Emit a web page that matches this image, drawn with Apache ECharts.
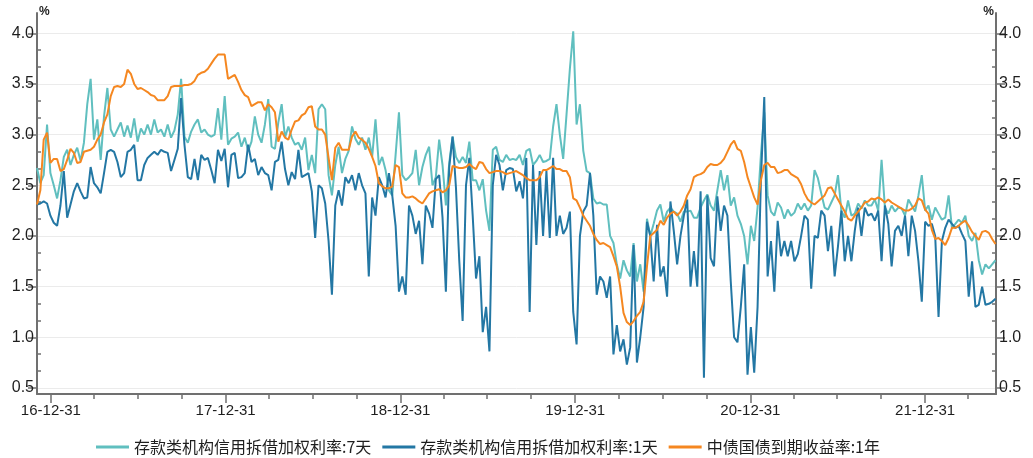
<!DOCTYPE html>
<html>
<head>
<meta charset="utf-8">
<script src="https://cdn.jsdelivr.net/npm/echarts@6/dist/echarts.min.js"></script>
<style>
  html, body { margin: 0; padding: 0; background: #fff; }
  #main { width: 1033px; height: 458px; }
</style>
</head>
<body>
<div id="main"></div>
<script>
// weekly observations (Fridays), first one 2016-12-02
var startDay = [2016, 11, 2];
var weekCount = 287;

var names = ['存款类机构信用拆借加权利率:7天', '存款类机构信用拆借加权利率:1天', '中债国债到期收益率:1年'];

var rate7d = [
    2.67, 2.52, 2.6, 3.1, 2.62, 2.5, 2.37, 2.55, 2.78, 2.85,
    2.7, 2.8, 2.87, 2.74, 2.92, 3.3, 3.55, 2.95, 3.15, 2.75,
    3.18, 3.46, 3.05, 2.98, 3.05, 3.12, 2.98, 3.09, 2.97, 3.16,
    2.93, 3.06, 3.0, 3.1, 3.0, 3.15, 3.02, 3.05, 2.98, 3.1,
    2.97, 3.04, 3.2, 3.55, 2.98, 2.92, 3.03, 3.1, 3.15, 3.02,
    3.05, 3.0, 2.98, 3.0, 3.26, 2.95, 3.38, 2.9, 2.96, 2.98,
    3.02, 2.88, 2.97, 2.84, 2.93, 3.18, 3.0, 2.92, 3.1, 3.35,
    2.88, 2.86, 3.12, 3.3, 2.97, 3.08, 2.97, 2.9, 2.92, 2.85,
    2.97, 2.65, 2.8, 2.62, 3.25, 3.3, 3.25, 2.6, 2.4, 2.7,
    2.88, 2.62, 2.76, 2.84, 3.08, 2.96, 2.9, 2.97, 2.85, 2.97,
    2.78, 3.15, 2.7, 2.78, 2.65, 2.45, 2.4, 2.8, 3.22, 2.6,
    2.55, 2.58, 2.62, 2.85, 2.5, 2.68, 2.8, 2.88, 2.5, 2.58,
    2.95, 2.7, 2.3, 2.72, 2.98, 2.78, 2.72, 2.78, 2.72, 2.93,
    2.55, 2.55, 2.45, 2.56, 2.25, 2.05, 2.85, 2.88, 2.75, 2.73,
    2.8, 2.75, 2.76, 2.75, 2.8, 2.7, 2.84, 2.86, 2.7, 2.74,
    2.8, 2.73, 2.74, 2.76, 3.08, 3.3, 3.0, 2.76, 3.2, 3.65,
    4.02, 3.1, 3.3, 2.84, 2.64, 2.62, 2.37, 2.32, 2.33, 2.31,
    2.31, 2.0, 1.93, 1.72, 1.58, 1.76, 1.66, 1.6, 1.93, 1.55,
    1.72, 1.45, 2.17, 2.0, 2.12, 2.25, 2.31, 2.14, 2.24, 2.28,
    2.24, 2.22, 2.14, 2.24, 2.24, 2.25, 2.18, 2.18, 2.28, 2.35,
    2.41, 2.3, 2.25, 2.45, 2.65, 2.45, 2.6, 2.3, 2.38, 2.2,
    2.12, 2.0, 1.72, 2.1, 1.95, 2.28, 2.8, 3.22, 2.4, 2.24,
    2.2, 2.33, 2.28, 2.17, 2.26, 2.2, 2.23, 2.32, 2.26, 2.32,
    2.25, 2.3, 2.65, 2.57, 2.42, 2.28, 2.26, 2.33, 2.4, 2.6,
    2.25, 2.18, 2.35, 2.2, 2.22, 2.32, 2.27, 2.35, 2.3, 2.3,
    2.36, 2.25, 2.75, 2.28, 2.22, 2.3, 2.24, 2.28, 2.27, 2.2,
    2.36, 2.3, 2.24, 2.4, 2.6, 2.25, 2.3, 2.16, 2.28, 2.22,
    2.16, 2.18, 2.4, 2.08, 2.12, 2.16, 2.13, 2.2, 2.0, 1.95,
    2.03, 1.76, 1.62, 1.72, 1.68, 1.72, 1.76
];

var rate1d = [
    2.31, 2.32, 2.34, 2.32, 2.2, 2.13, 2.1, 2.3, 2.64, 2.18,
    2.31, 2.44, 2.52, 2.44, 2.37, 2.38, 2.68, 2.52, 2.48, 2.42,
    2.62, 2.83, 2.85, 2.83, 2.73, 2.58, 2.62, 2.83, 2.85, 2.9,
    2.55, 2.55, 2.7, 2.77, 2.8, 2.83, 2.8, 2.85, 2.83, 2.82,
    2.64, 2.75, 2.86, 3.36, 2.9, 2.58, 2.56, 2.76, 2.55, 2.8,
    2.75, 2.77, 2.65, 2.52, 2.85, 2.74, 2.86, 2.48, 2.8, 2.82,
    2.57, 2.58, 2.62, 2.9, 2.73, 2.76, 2.6, 2.68, 2.62, 2.6,
    2.45, 2.73, 2.75, 2.93, 2.66, 2.5, 2.63, 2.56, 2.85, 2.58,
    2.6, 2.62, 2.44, 1.98, 2.5, 2.47, 2.32, 1.95, 1.42, 2.3,
    2.45, 2.3, 2.58, 2.52, 2.6, 2.45, 2.62, 2.5, 2.42, 1.6,
    2.38, 2.2, 2.58, 2.5, 2.38, 2.62, 2.4, 2.1, 1.45, 1.6,
    1.42, 2.3, 2.2, 2.02, 2.15, 1.72, 2.3, 2.22, 2.08, 2.56,
    2.6, 2.18, 1.45, 2.68, 2.98, 2.48, 1.75, 1.16, 2.5, 2.77,
    2.2, 1.58, 1.8, 1.05, 1.3, 0.86, 2.5, 2.8, 2.7, 2.45,
    2.65, 2.67, 2.66, 2.44, 2.54, 2.37, 2.77, 1.25, 2.7, 1.91,
    2.64, 2.0, 2.64, 1.98, 2.77, 2.0, 2.2, 2.02, 2.08, 2.24,
    1.25, 0.93, 2.0, 2.24, 2.3, 2.62, 2.2, 1.42, 1.6, 1.55,
    1.39, 1.6, 0.83, 1.12, 0.86, 0.98, 0.73, 0.9, 1.91, 0.75,
    1.0, 1.3, 2.14, 2.0, 1.55, 2.11, 1.6, 1.7, 1.4, 2.34,
    2.05, 1.72, 2.0, 2.2, 2.36, 1.5, 1.85, 1.5, 2.44, 0.6,
    2.4, 1.78, 1.7, 2.39, 2.05, 2.3, 2.2, 1.55, 1.0, 0.95,
    1.3, 1.72, 0.63, 1.1, 0.65, 1.3, 2.55, 3.37, 1.6, 1.95,
    1.45, 2.15, 1.8, 1.95, 1.8, 1.95, 1.75, 1.82, 2.0, 2.2,
    2.16, 1.48, 2.0, 1.98, 2.25, 2.2, 1.85, 2.1, 1.6, 1.9,
    2.25, 1.75, 2.0, 1.75, 2.05, 2.28, 2.0, 2.28, 2.2, 2.22,
    2.15, 2.25, 1.75, 2.3, 2.12, 1.7, 2.05, 2.1, 2.0, 2.2,
    1.8, 2.2, 2.05, 1.75, 1.35, 2.14, 2.1, 2.12, 2.0, 1.2,
    1.95, 2.08, 2.16, 2.12, 2.08, 2.1, 2.02, 1.95, 1.4, 1.75,
    1.3, 1.32, 1.5, 1.32, 1.33, 1.35, 1.38
];

var bond1y = [
    2.31, 2.45, 2.95, 3.02, 2.72, 2.76, 2.76, 2.64, 2.66, 2.75,
    2.86, 2.82, 2.72, 2.73, 2.83, 2.84, 2.85, 2.88, 2.95, 3.0,
    3.12, 3.2, 3.38, 3.47, 3.48, 3.47, 3.5, 3.64, 3.6, 3.5,
    3.45, 3.46, 3.44, 3.42, 3.39, 3.38, 3.34, 3.34, 3.34, 3.38,
    3.47, 3.48, 3.48, 3.48, 3.49, 3.49, 3.5, 3.53, 3.59, 3.61,
    3.62, 3.65, 3.7, 3.75, 3.79, 3.79, 3.79, 3.55, 3.57, 3.59,
    3.52, 3.44, 3.39, 3.37, 3.28, 3.3, 3.32, 3.32, 3.24, 3.3,
    3.27, 3.22, 2.93, 3.03, 2.97, 2.95, 3.05, 3.13, 3.14, 3.19,
    3.21, 3.27, 3.28, 3.08, 3.05, 3.05, 3.0, 2.77, 2.55, 2.87,
    2.92, 2.85, 2.85, 2.85, 2.98, 3.03, 2.97, 2.95, 2.92, 2.86,
    2.78, 2.69, 2.52, 2.49, 2.47, 2.47, 2.49, 2.7, 2.68, 2.42,
    2.38, 2.38, 2.39, 2.37, 2.34, 2.32, 2.37, 2.42, 2.44, 2.45,
    2.46, 2.43, 2.45, 2.5, 2.69, 2.68, 2.67, 2.67, 2.68, 2.71,
    2.68, 2.66, 2.73, 2.72, 2.66, 2.62, 2.63, 2.64, 2.64, 2.63,
    2.61, 2.62, 2.63, 2.64, 2.62, 2.6, 2.57, 2.55, 2.55, 2.55,
    2.58, 2.65, 2.65, 2.67, 2.69, 2.66, 2.66, 2.64, 2.64, 2.58,
    2.37, 2.35, 2.28, 2.2, 2.15, 2.1, 2.02, 1.96, 1.92, 1.93,
    1.91, 1.89, 1.8, 1.7, 1.5, 1.24, 1.15, 1.12, 1.16, 1.21,
    1.25, 1.35, 1.7, 2.0, 2.03, 2.06, 2.15, 2.11, 2.18, 2.22,
    2.24, 2.2, 2.24, 2.3, 2.4, 2.46, 2.58, 2.6, 2.61, 2.63,
    2.68, 2.71, 2.7, 2.7, 2.72, 2.76, 2.83, 2.9, 2.94, 2.86,
    2.84, 2.73, 2.58, 2.48, 2.38, 2.31, 2.55, 2.7, 2.72, 2.68,
    2.68, 2.62, 2.63, 2.65, 2.65, 2.61, 2.59, 2.57, 2.51, 2.42,
    2.36, 2.33, 2.31, 2.34, 2.37, 2.4, 2.47, 2.48, 2.42, 2.36,
    2.3, 2.24, 2.17, 2.15, 2.2, 2.24, 2.28, 2.33, 2.34, 2.37,
    2.36, 2.38, 2.36, 2.33, 2.36, 2.33, 2.31, 2.29, 2.27, 2.25,
    2.25, 2.27, 2.3, 2.37, 2.35, 2.26, 2.22, 2.06, 1.97, 1.98,
    1.95, 1.91, 1.98, 2.08, 2.08, 2.1, 2.13, 2.15, 2.1, 2.04,
    2.0, 1.96, 2.04, 2.05, 2.03, 1.97, 1.92
];

var xTickDates = ['2016-12-31', '2017-12-31', '2018-12-31', '2019-12-31', '2020-12-31', '2021-12-31'];
var xMinorDates = [
    '2017-03-31', '2017-06-30', '2017-09-30',
    '2018-03-31', '2018-06-30', '2018-09-30',
    '2019-03-31', '2019-06-30', '2019-09-30',
    '2020-03-31', '2020-06-30', '2020-09-30',
    '2021-03-31', '2021-06-30', '2021-09-30',
    '2022-03-31'
];
var yTicks = [0.5, 1.0, 1.5, 2.0, 2.5, 3.0, 3.5, 4.0];
var yMinorTicks = [0.667, 0.833, 1.167, 1.333, 1.667, 1.833, 2.167, 2.333,
    2.667, 2.833, 3.167, 3.333, 3.667, 3.833];

var colors = ['#60bfbf', '#2377a4', '#f58720'];

function pad(n) { return n < 10 ? '0' + n : '' + n; }

// dates as UTC timestamps, x axis is a plain value axis over time
function toTime(s) {
    var p = s.split('-');
    return Date.UTC(+p[0], +p[1] - 1, +p[2]);
}
var dayMs = 86400000;
var t0 = Date.UTC(startDay[0], startDay[1], startDay[2]);
var times = [];
for (var i = 0; i < weekCount; i++) {
    times.push(t0 + i * 7 * dayMs);
}
function pairs(vals) {
    return vals.map(function (v, k) { return [times[k], v]; });
}

var axisColor = '#707070';
var labelFamily = "'Liberation Sans', Arial, sans-serif";

var xMin = toTime('2016-12-02'), xMax = toTime('2022-05-28');
var yMin = 0.44, yMax = 4.2;

function yLabel(pos) {
    return {
        type: 'value',
        position: pos,
        min: yMin,
        max: yMax,
        name: '%',
        nameLocation: 'end',
        nameGap: -5,
        nameTextStyle: {
            fontSize: 12, fontWeight: 'bold', color: '#1e1e1e',
            align: pos === 'left' ? 'left' : 'right', verticalAlign: 'bottom',
            padding: pos === 'left' ? [0, 0, 0, 2] : [0, 2, 0, 0]
        },
        axisLine: { show: true, lineStyle: { color: axisColor, width: 2 } },
        axisTick: { show: true, customValues: yTicks, length: 9, lineStyle: { color: axisColor, width: 1.5 } },
        axisLabel: {
            customValues: yTicks, margin: 3, fontSize: 16, color: '#1e1e1e', fontFamily: labelFamily,
            formatter: function (v) { return v.toFixed(1); }
        },
        splitLine: { show: pos === 'left', lineStyle: { color: '#ebebeb', width: 1 } }
    };
}

function yMinor(pos) {
    return {
        type: 'value',
        position: pos,
        min: yMin,
        max: yMax,
        axisLine: { show: false },
        axisTick: { show: true, inside: true, customValues: yMinorTicks, length: 4, lineStyle: { color: axisColor, width: 1.5 } },
        axisLabel: { show: false },
        splitLine: { show: false }
    };
}

var chart = echarts.init(document.getElementById('main'));

var option = {
    animation: false,
    color: colors,
    grid: { left: 37, right: 37, top: 13, bottom: 64, containLabel: false },
    legend: {
        left: 91,
        top: 434,
        icon: 'rect',
        itemWidth: 33,
        itemHeight: 3,
        itemGap: 11,
        textStyle: { fontSize: 16, color: '#1e1e1e', fontFamily: "'Noto Sans CJK SC', sans-serif" },
        data: names
    },
    xAxis: [
        {
            type: 'value',
            min: xMin,
            max: xMax,
            axisLine: { lineStyle: { color: axisColor, width: 2 } },
            axisTick: { show: true, customValues: xTickDates.map(toTime), length: 9, lineStyle: { color: axisColor, width: 1.5 } },
            axisLabel: {
                customValues: xTickDates.map(toTime),
                margin: 9,
                fontSize: 15,
                color: '#1e1e1e',
                fontFamily: labelFamily,
                formatter: function (v) {
                    var d = new Date(v);
                    return pad(d.getUTCFullYear() % 100) + '-' + pad(d.getUTCMonth() + 1) + '-' + pad(d.getUTCDate());
                }
            },
            splitLine: { show: false }
        },
        {
            type: 'value',
            position: 'bottom',
            min: xMin,
            max: xMax,
            axisLine: { show: false },
            axisTick: { show: true, customValues: xMinorDates.map(toTime), length: 5, lineStyle: { color: axisColor, width: 1.5 } },
            axisLabel: { show: false },
            splitLine: { show: false }
        }
    ],
    yAxis: [yLabel('left'), yLabel('right'), yMinor('left'), yMinor('right')],
    series: [
        {
            name: names[0], type: 'line', symbol: 'none', data: pairs(rate7d),
            lineStyle: { width: 2, color: colors[0] }, z: 2
        },
        {
            name: names[1], type: 'line', symbol: 'none', data: pairs(rate1d),
            lineStyle: { width: 2, color: colors[1] }, z: 3
        },
        {
            name: names[2], type: 'line', symbol: 'none', data: pairs(bond1y),
            lineStyle: { width: 2, color: colors[2] }, z: 4
        }
    ]
};

chart.setOption(option);
</script>
</body>
</html>
